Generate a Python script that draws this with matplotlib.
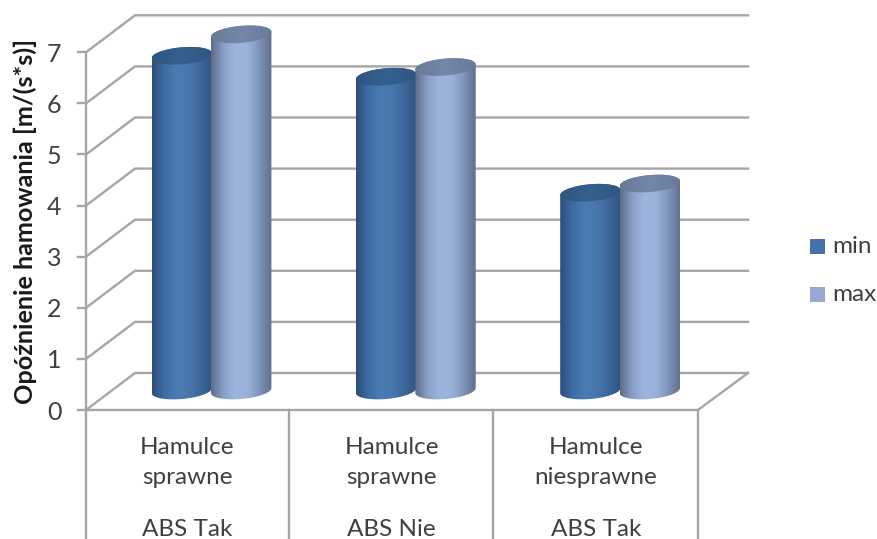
import numpy as np
import matplotlib
matplotlib.use("Agg")
import matplotlib.pyplot as plt
from matplotlib.colors import LinearSegmentedColormap
from matplotlib.patches import Polygon, Rectangle

plt.rcParams['font.family'] = ['Lato', 'DejaVu Sans']

categories = [["Hamulce", "sprawne"], ["Hamulce", "sprawne"], ["Hamulce", "niesprawne"]]
abs_labels = ["ABS Tak", "ABS Nie", "ABS Tak"]
series_names = ["min", "max"]
min_values = [6.55, 6.14, 3.87]
max_values = [6.97, 6.33, 4.05]
y_ticks = [0, 1, 2, 3, 4, 5, 6, 7]

GRID = "#a6a6a6"
TEXT = "#404040"

# pixel scale of the picture, used to place the axes limits
W, H = 878, 539
UNIT_Y = 51.1      # px per value unit
UNIT_X = 204.3     # px per category
X0, Y0 = 211.5, 390.5  # first category, value 0 at bar depth


def px_x(p):
    return (p - X0) / UNIT_X


def px_y(p):
    return (Y0 - p) / UNIT_Y


fig = plt.figure(figsize=(W / 100, H / 100), dpi=100)
ax = fig.add_axes([0, 0, 1, 1])
ax.axis("off")

# walls and floor
front_left, front_right = px_x(86), px_x(698)
back_left, back_right = px_x(135), px_x(748)
front_zero, back_zero = px_y(410), px_y(373)
for v in y_ticks:
    yf, yb = front_zero + v, back_zero + v
    ax.plot([front_left, back_left, back_right], [yf, yb, yb], color=GRID, lw=1.7, zorder=1)
    ax.plot([px_x(78), front_left], [yf, yf], color=GRID, lw=1.7, zorder=1)
    ax.text(px_x(54), yf - 2 / UNIT_Y, str(v), ha="center", va="center", fontsize=18, color=TEXT)
ax.plot([front_left, front_left], [front_zero, front_zero + y_ticks[-1]], color=GRID, lw=1.7, zorder=1)
ax.plot([front_left, front_right, back_right], [front_zero, front_zero, back_zero], color=GRID, lw=1.7, zorder=1)

# category table under the axis
for p in [86, 289, 493, 698]:
    ax.plot([px_x(p), px_x(p)], [front_zero, px_y(H + 2)], color=GRID, lw=1.7, zorder=1)
for i, (cat, lab) in enumerate(zip(categories, abs_labels)):
    xc = i - 24 / UNIT_X
    ax.text(xc, px_y(447), cat[0], ha="center", va="center", fontsize=17.5, color=TEXT)
    ax.text(xc, px_y(478), cat[1], ha="center", va="center", fontsize=17.5, color=TEXT)
    ax.text(xc, px_y(530), lab, ha="center", va="center", fontsize=17.5, color=TEXT)

ax.text(px_x(25), px_y(221), "Opóźnienie hamowania [m/(s*s)]", rotation=90, ha="center", va="center",
        fontsize=18.2, color="#1a1a1a", fontweight="bold")

# cylinders
body_cmaps = [
    LinearSegmentedColormap.from_list("b1", ["#2b4f78", "#3f6ca3", "#4a7bb3", "#4878ae", "#3c669a", "#2f5480"]),
    LinearSegmentedColormap.from_list("b2", ["#5d6c88", "#8a9fc6", "#9db5de", "#9ab2da", "#7f93b8", "#5f708f"]),
]
cap_cmaps = [
    LinearSegmentedColormap.from_list("c1", ["#2f5680", "#35608f", "#2f5680"]),
    LinearSegmentedColormap.from_list("c2", ["#6a7a98", "#7487a8", "#6a7a98"]),
]
half_w = 30.2 / UNIT_X
ell_h = 8.5 / UNIT_Y
tilt = 2.5 / UNIT_Y
t = np.linspace(0, 2 * np.pi, 121)
grad = np.linspace(0, 1, 200).reshape(1, -1)

for j, values in enumerate([min_values, max_values]):
    for i, v in enumerate(values):
        cx = i + (j - 0.5) * (2 * half_w - 1 / UNIT_X)
        ex = cx + half_w * np.cos(t)
        low = t >= np.pi
        high = t <= np.pi
        # bottom half of the base ellipse, then the top half of the cap
        base_y = ell_h * np.sin(t) + tilt * np.cos(t)
        body = np.column_stack([np.r_[ex[low], ex[high]], np.r_[base_y[low], v + base_y[high]]])
        zo = 3 + 2 * j
        im = ax.imshow(grad, cmap=body_cmaps[j], extent=[cx - half_w, cx + half_w, -0.3, v + 0.3],
                       aspect="auto", zorder=zo)
        clip = Polygon(body, closed=True, transform=ax.transData, fc="none", ec="none")
        ax.add_patch(clip)
        im.set_clip_path(clip)
        cap = ax.imshow(grad, cmap=cap_cmaps[j], extent=[cx - half_w, cx + half_w, v - 0.3, v + 0.3],
                        aspect="auto", zorder=zo + 1)
        clip2 = Polygon(np.column_stack([ex, v + base_y]), closed=True, transform=ax.transData, fc="none", ec="none")
        ax.add_patch(clip2)
        cap.set_clip_path(clip2)

# legend
legend_colors = ["#4472a8", "#94a9d0"]
for name, col, p in zip(series_names, legend_colors, [247, 295]):
    ax.add_patch(Rectangle((px_x(810), px_y(p + 7.5)), 15.5 / UNIT_X, 15 / UNIT_Y, fc=col, ec="none", zorder=2))
    ax.text(px_x(832), px_y(p), name, ha="left", va="center", fontsize=17.5, color=TEXT)

ax.set_xlim(px_x(0), px_x(W))
ax.set_ylim(px_y(H), px_y(0))

fig.savefig("out.png", dpi=100)
